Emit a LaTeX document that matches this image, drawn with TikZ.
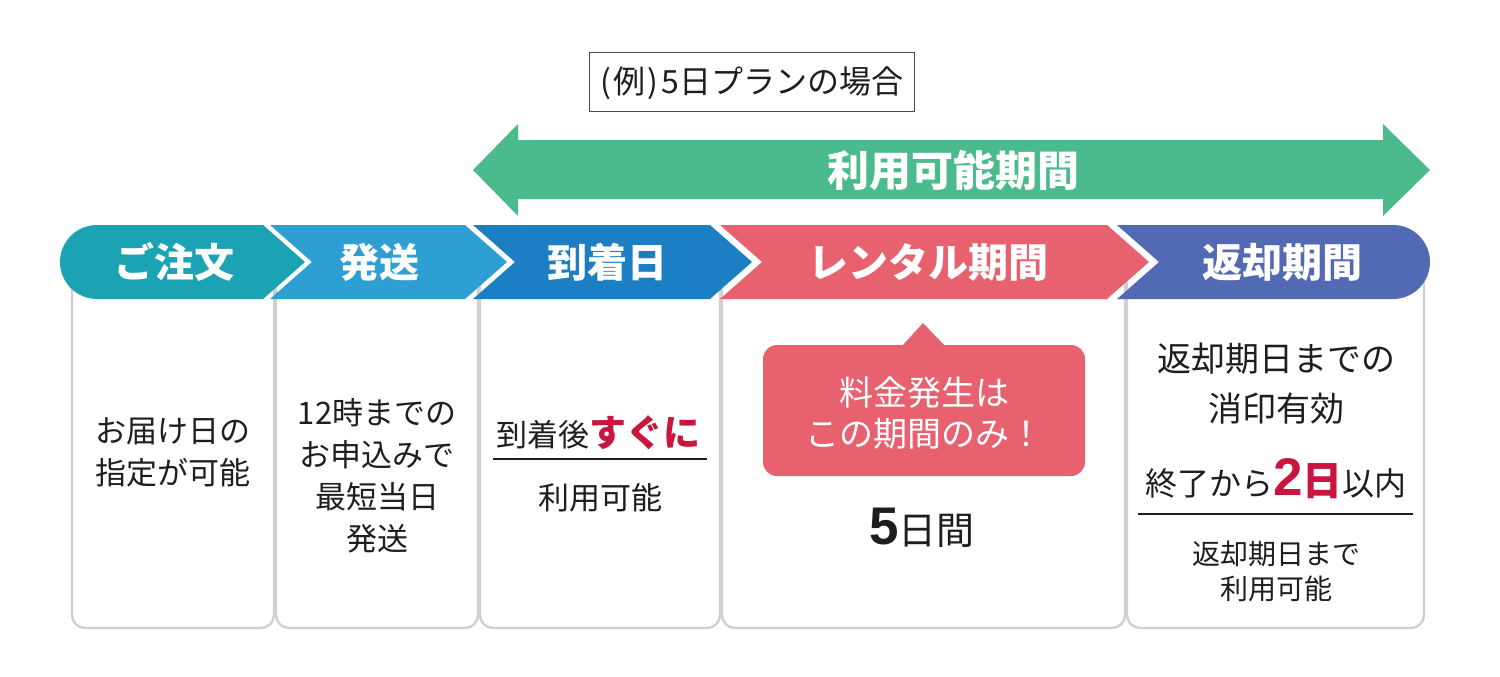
\documentclass[tikz,border=0pt]{standalone}
\usepackage{fontspec}
\setmainfont{Noto Sans CJK JP}
\newfontfamily\numfont{Liberation Sans}
\newcommand{\jfs}[1]{\fontsize{#1}{#1}\selectfont}
\definecolor{segA}{HTML}{1BA3B4}
\definecolor{segB}{HTML}{2D9FD3}
\definecolor{segC}{HTML}{1D7FC3}
\definecolor{segD}{HTML}{E8616F}
\definecolor{segE}{HTML}{516AB3}
\definecolor{arrowgreen}{HTML}{4BBA8D}
\definecolor{accent}{HTML}{C8163F}
\definecolor{cardline}{HTML}{D0D0D0}
\definecolor{ink}{HTML}{1E1E1E}
\tikzset{
  card/.style={draw=cardline, line width=2.4pt, fill=white, rounded corners=13pt},
  txt/.style={anchor=base, inner sep=0pt, text=ink},
  head/.style={anchor=base, inner sep=0pt, text=white, font=\jfs{40}\bfseries},
  rule/.style={draw=ink, line width=1.6pt}
}
\begin{document}
\begin{tikzpicture}[x=1pt,y=-1pt]
\useasboundingbox (0,0) rectangle (1500,677);
\fill[white] (0,0) rectangle (1500,677);

% top label
\node[draw=ink!80, line width=1pt, minimum width=325pt, minimum height=58pt, inner sep=0pt] (example) at (752,82) {};
\node[txt, font=\jfs{32}] (exampletxt) at (752,93) {(\kern2pt 例\kern2pt)\kern3pt 5日プランの場合};

% green double arrow
\fill[arrowgreen] (473,170) -- (518,124) -- (518,140) -- (1383,140) -- (1383,124) -- (1430,170)
  -- (1383,216) -- (1383,199) -- (518,199) -- (518,216) -- cycle;
\node[head, font=\jfs{42}\bfseries] (period) at (953,186) {利用可能期間};

% cards (tops hidden under the band)
\draw[card] (72,262) -- (72,628) -- (274,628) -- (274,262);
\draw[card] (276,262) -- (276,628) -- (478,628) -- (478,262);
\draw[card] (480,262) -- (480,628) -- (720,628) -- (720,262);
\draw[card] (722,262) -- (722,628) -- (1125,628) -- (1125,262);
\draw[card] (1127,262) -- (1127,628) -- (1424,628) -- (1424,262);

% chevron band
\fill[segA] (97,299) arc[start angle=90, end angle=270, radius=37] -- (263,225) -- (305,262) -- (263,299) -- cycle;
\fill[segB] (270,225) -- (465,225) -- (507,262) -- (465,299) -- (270,299) -- (312,262) -- cycle;
\fill[segC] (473,225) -- (710,225) -- (752,262) -- (710,299) -- (473,299) -- (515,262) -- cycle;
\fill[segD] (720,225) -- (1107,225) -- (1149,262) -- (1107,299) -- (720,299) -- (762,262) -- cycle;
\fill[segE] (1117,225) -- (1393,225) arc[start angle=-90, end angle=90, radius=37] -- (1117,299) -- (1159,262) -- cycle;

\node[head] (order) at (174,277) {ご注文};
\node[head] (ship) at (379,277) {発送};
\node[head] (arrive) at (607,277) {到着日};
\node[head] (rental) at (928,277) {レンタル期間};
\node[head] (return) at (1282,277) {返却期間};

% card 1
\node[txt, font=\jfs{31}] (c1a) at (173,442) {お届け日の};
\node[txt, font=\jfs{31}] (c1b) at (173,484) {指定が可能};

% card 2
\node[txt, font=\jfs{31}] (c2a) at (377,424) {12時までの};
\node[txt, font=\jfs{31}] (c2b) at (377,466) {お申込みで};
\node[txt, font=\jfs{31}] (c2c) at (377,508) {最短当日};
\node[txt, font=\jfs{31}] (c2d) at (377,550) {発送};

% card 3
\node[txt] (c3a) at (598,446) {\jfs{31}到着後\textcolor{accent}{\jfs{37}\bfseries すぐに}};
\coordinate (r3l) at (493,459);
\coordinate (r3r) at (707,459);
\draw[rule] (r3l) -- (r3r);
\node[txt, font=\jfs{31}] (c3b) at (600,509) {利用可能};

% card 4 bubble
\fill[segD, rounded corners=14pt] (763,345) rectangle (1085,476);
\fill[segD] (902,346) -- (923,323) -- (945,346) -- cycle;
\node[txt, text=white, font=\jfs{34}] (b1) at (924,405) {料金発生は};
\node[txt, text=white, font=\jfs{34}] (b2) at (924,446) {この期間のみ！};
\node[txt] (days) at (922,544) {{\numfont\jfs{53}\bfseries 5}{\jfs{38}日間}};

% card 5
\node[txt, font=\jfs{34}] (c5a) at (1276,371) {返却期日までの};
\node[txt, font=\jfs{34}] (c5b) at (1276,421) {消印有効};
\node[txt] (c5c) at (1276,495) {\jfs{32}終了から\textcolor{accent}{{\numfont\jfs{53}\bfseries 2}{\jfs{40}\bfseries 日}}以内};
\coordinate (r5l) at (1138,514);
\coordinate (r5r) at (1413,514);
\draw[rule] (r5l) -- (r5r);
\node[txt, font=\jfs{28}] (c5d) at (1276,564) {返却期日まで};
\node[txt, font=\jfs{28}] (c5e) at (1276,599) {利用可能};
\end{tikzpicture}
\end{document}
